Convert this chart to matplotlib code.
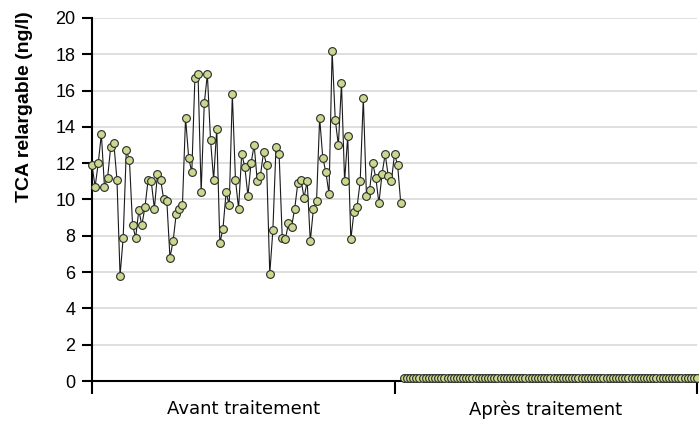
import numpy as np
import matplotlib.pyplot as plt

plt.rcParams['font.family'] = ['Liberation Sans', 'DejaVu Sans']

# TCA relargable (ng/l) per sample
avant = [11.9, 10.7, 12.0, 13.6, 10.7, 11.2, 12.9, 13.1, 11.1, 5.8,
         7.9, 12.7, 12.2, 8.6, 7.9, 9.4, 8.6, 9.6, 11.1, 11.0,
         9.5, 11.4, 11.1, 10.0, 9.9, 6.8, 7.7, 9.2, 9.5, 9.7,
         14.5, 12.3, 11.5, 16.7, 16.9, 10.4, 15.3, 16.9, 13.3, 11.1,
         13.9, 7.6, 8.4, 10.4, 9.7, 15.8, 11.1, 9.5, 12.5, 11.8,
         10.2, 12.0, 13.0, 11.0, 11.3, 12.6, 11.9, 5.9, 8.3, 12.9,
         12.5, 7.9, 7.8, 8.7, 8.5, 9.5, 10.9, 11.1, 10.1, 11.0,
         7.7, 9.5, 9.9, 14.5, 12.3, 11.5, 10.3, 18.2, 14.4, 13.0,
         16.4, 11.0, 13.5, 7.8, 9.3, 9.6, 11.0, 15.6, 10.2, 10.5,
         12.0, 11.2, 9.8, 11.4, 12.5, 11.3, 11.0, 12.5, 11.9, 9.8]
apres = [0.15] * 95

categories = ["Avant traitement", "Après traitement"]
ylabel = "TCA relargable (ng/l)"

n_av = len(avant)
n_tot = n_av + len(apres)
x_av = np.arange(n_av)
x_ap = np.arange(n_av, n_tot)

fig = plt.figure(figsize=(6.99, 4.21), dpi=100)
ax = fig.add_axes([92 / 699, 1 - 381 / 421, (697 - 92) / 699, (381 - 18) / 421])

mk = dict(marker="o", markersize=5.6, markerfacecolor="#c8d98f",
          markeredgecolor="#2a2a2a", markeredgewidth=0.8,
          color="#1a1a1a", linewidth=0.8, clip_on=False, zorder=3)
ax.plot(x_av, avant, **mk)
ax.plot(x_ap, apres, **mk)

ax.set_xlim(0, n_tot - 1)
ax.set_ylim(0, 20)
ax.set_yticks(np.arange(0, 21, 2))
ax.yaxis.grid(True, color="#d9d9d9", linewidth=1.2)
ax.set_axisbelow(True)

mid = (n_tot - 1) / 2
ax.set_xticks([0, mid, n_tot - 1])
ax.set_xticklabels(["", "", ""])
ax.set_xticks([mid / 2, mid * 1.5], minor=True)
ax.set_xticklabels(categories, minor=True, family="DejaVu Sans")
ax.tick_params(axis="x", which="major", direction="out", length=9, width=1.5)
ax.tick_params(axis="x", which="minor", length=0, pad=14, labelsize=13)
ax.tick_params(axis="y", direction="out", length=7, width=1.5, labelsize=13, pad=5)

for s in ["top", "right"]:
    ax.spines[s].set_visible(False)
ax.spines["left"].set_linewidth(1.5)
ax.spines["bottom"].set_linewidth(1.5)

ax.set_ylabel(ylabel, fontsize=14, fontweight="bold")
ax.yaxis.set_label_coords((33 - 92) / 605, (381 - 107) / 363)

fig.savefig("out.png", dpi=100)
